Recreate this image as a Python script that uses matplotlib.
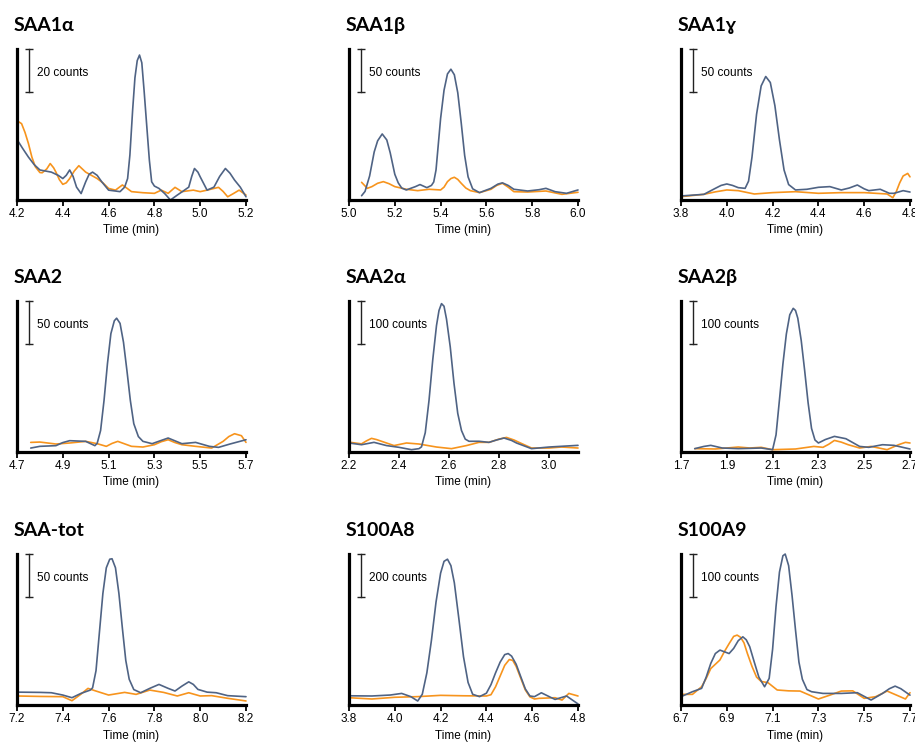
import matplotlib
matplotlib.use("Agg")

import matplotlib.pyplot as plt
import matplotlib.transforms as mtransforms

BLUE = "#4f6384"
ORANGE = "#f7941d"

# (time [min], counts above baseline)
saa1a_blue = [(4.2, 28.2), (4.225, 24), (4.25, 20), (4.275, 16.5), (4.3, 14), (4.35, 13),
              (4.38, 11.5), (4.4, 10), (4.415, 11.5), (4.43, 14), (4.445, 11), (4.46, 6),
              (4.48, 3), (4.5, 8.5), (4.515, 12), (4.53, 13), (4.55, 11.5), (4.57, 8.5),
              (4.6, 4.6), (4.65, 3.9), (4.67, 6), (4.683, 10), (4.693, 21), (4.705, 42),
              (4.715, 57), (4.725, 65), (4.735, 67.6), (4.745, 64), (4.755, 51), (4.767, 34),
              (4.778, 18.6), (4.788, 8.5), (4.8, 6.5), (4.82, 5.4), (4.845, 3), (4.87, 0),
              (4.9, 2.3), (4.93, 4.5), (4.95, 6), (4.963, 11), (4.975, 14.7), (4.99, 13),
              (5.0, 10.8), (5.03, 4.6), (5.06, 6), (5.085, 11), (5.11, 14.7), (5.13, 12.5),
              (5.15, 9.3), (5.175, 6), (5.2, 1.5)]
saa1a_orange = [(4.2, 37), (4.22, 35.6), (4.235, 31.5), (4.25, 26.3), (4.265, 20), (4.28, 15.5),
                (4.3, 12.8), (4.31, 12.7), (4.33, 14.5), (4.345, 17), (4.36, 15), (4.37, 13),
                (4.385, 9.5), (4.4, 7.3), (4.415, 8), (4.43, 10), (4.45, 13.5), (4.47, 16),
                (4.5, 13), (4.55, 10), (4.575, 8), (4.6, 5.4), (4.63, 4.6), (4.66, 7),
                (4.68, 5.5), (4.7, 3.9), (4.75, 3.4), (4.8, 3.1), (4.83, 4.6), (4.86, 3.1),
                (4.89, 5.9), (4.92, 3.9), (4.97, 4.6), (5.0, 3.9), (5.03, 4.6), (5.08, 5.9),
                (5.1, 4), (5.12, 1.5), (5.145, 3), (5.17, 4.6), (5.2, 2.3)]

saa1b_blue = [(5.055, 5), (5.07, 10), (5.09, 28), (5.11, 56), (5.125, 69), (5.145, 77),
              (5.165, 70), (5.18, 55), (5.2, 30), (5.215, 20), (5.23, 14), (5.25, 11.7),
              (5.29, 15.6), (5.31, 18), (5.34, 14.4), (5.36, 17), (5.37, 21), (5.38, 35),
              (5.4, 95), (5.415, 128), (5.43, 147), (5.445, 152.5), (5.46, 146), (5.475, 125),
              (5.49, 90), (5.505, 52), (5.52, 27), (5.54, 13), (5.57, 8.6), (5.62, 13.6),
              (5.65, 18.5), (5.67, 20), (5.695, 17), (5.72, 12.5), (5.78, 10.5), (5.83, 12),
              (5.86, 13.6), (5.9, 9.7), (5.95, 7.8), (6.0, 11.7)]
saa1b_orange = [(5.055, 20.6), (5.08, 13.6), (5.1, 15.6), (5.125, 19.5), (5.15, 21.4),
                (5.175, 19), (5.2, 15.6), (5.25, 12.5), (5.3, 10.9), (5.35, 12.5), (5.4, 11.7),
                (5.415, 15), (5.43, 21.4), (5.445, 25), (5.46, 26.5), (5.475, 24), (5.49, 19.5),
                (5.51, 14), (5.53, 10.9), (5.57, 8.6), (5.62, 12.5), (5.645, 17), (5.67, 19.5),
                (5.695, 15), (5.72, 9.7), (5.78, 9.3), (5.86, 10.5), (5.93, 6.6), (6.0, 9)]

saa1g_blue = [(3.8, 4.7), (3.9, 6.6), (3.95, 13.6), (3.975, 17), (4.0, 18.7), (4.025, 17),
              (4.05, 14.4), (4.08, 13.6), (4.095, 22), (4.11, 50), (4.13, 100), (4.15, 133),
              (4.17, 144), (4.19, 137), (4.21, 110), (4.23, 70), (4.25, 35), (4.27, 18),
              (4.3, 11.7), (4.35, 12.5), (4.4, 14.8), (4.45, 15.6), (4.5, 11.7), (4.535, 14),
              (4.57, 17.5), (4.6, 13), (4.62, 10.9), (4.67, 12.5), (4.71, 7.8), (4.73, 7.8),
              (4.77, 10.9), (4.8, 9.3)]
saa1g_orange = [(3.8, 3.9), (3.9, 6.6), (3.95, 9.5), (4.0, 11.7), (4.05, 10.9), (4.12, 7),
                (4.2, 8.6), (4.3, 9.7), (4.4, 7.8), (4.5, 8.6), (4.6, 8.6), (4.7, 7),
                (4.725, 2.7), (4.74, 9.7), (4.755, 20), (4.77, 28), (4.79, 31), (4.8, 27)]

saa2_blue = [(4.76, 4.6), (4.8, 6.6), (4.87, 7.4), (4.9, 11), (4.93, 13.2), (5.0, 12.4),
             (5.04, 7.4), (5.05, 10), (5.065, 25), (5.08, 60), (5.095, 103), (5.11, 138),
             (5.125, 153), (5.135, 156), (5.15, 150), (5.165, 128), (5.18, 95), (5.195, 60),
             (5.21, 33), (5.23, 18), (5.25, 12.4), (5.29, 9.7), (5.33, 13.5), (5.36, 16.3),
             (5.39, 13), (5.42, 9.7), (5.48, 11.2), (5.54, 6.6), (5.58, 5.4), (5.63, 9.3),
             (5.7, 14.3)]
saa2_orange = [(4.76, 11.2), (4.8, 11.6), (4.87, 9.3), (4.93, 10.5), (5.0, 12.4), (5.05, 9.7),
               (5.09, 6.6), (5.115, 10), (5.14, 12.4), (5.17, 9.5), (5.2, 6.6), (5.25, 5.8),
               (5.3, 8.5), (5.33, 12), (5.36, 14.3), (5.39, 11), (5.42, 8.5), (5.48, 6.6),
               (5.55, 4.6), (5.6, 12.4), (5.625, 18), (5.65, 21.3), (5.68, 19), (5.7, 11.2)]

saa2a_blue = [(2.2, 21), (2.25, 17), (2.3, 22.5), (2.35, 15), (2.4, 10.9), (2.45, 5.4),
              (2.48, 7.8), (2.49, 12), (2.505, 45), (2.52, 120), (2.535, 215), (2.55, 295),
              (2.56, 330), (2.57, 346), (2.58, 340), (2.59, 310), (2.605, 245), (2.62, 160),
              (2.635, 90), (2.65, 50), (2.665, 30), (2.68, 25), (2.72, 25), (2.76, 22.5),
              (2.79, 28), (2.82, 32.6), (2.85, 27), (2.87, 21), (2.93, 7.8), (3.0, 11.6),
              (3.116, 15.5)]
saa2a_orange = [(2.2, 23), (2.25, 19), (2.27, 26), (2.29, 31.8), (2.31, 29), (2.33, 25),
                (2.38, 15), (2.43, 21), (2.48, 18.6), (2.55, 11.6), (2.61, 7.8), (2.67, 15),
                (2.72, 22.5), (2.76, 22.5), (2.8, 30), (2.83, 34), (2.86, 28), (2.88, 22.5),
                (2.93, 9.3), (3.0, 9.3), (3.05, 11.6), (3.116, 9.3)]

saa2b_blue = [(1.76, 7.8), (1.8, 13), (1.83, 15.5), (1.88, 9.3), (1.95, 7.8), (2.0, 8.5),
              (2.05, 9.3), (2.1, 5.4), (2.115, 40), (2.13, 122), (2.145, 205), (2.16, 275),
              (2.175, 320), (2.19, 335), (2.2, 330), (2.21, 312), (2.225, 260), (2.24, 190),
              (2.255, 115), (2.27, 55), (2.285, 28), (2.3, 21), (2.33, 29), (2.37, 36.4),
              (2.42, 31), (2.48, 13), (2.52, 10.9), (2.58, 17), (2.63, 15.5), (2.7, 7)]
saa2b_orange = [(1.76, 7.8), (1.85, 7), (1.95, 11.6), (2.0, 9.3), (2.05, 10.9), (2.1, 5.4),
                (2.2, 7), (2.28, 13), (2.32, 10.9), (2.345, 18), (2.37, 27), (2.4, 23),
                (2.43, 17), (2.48, 9.3), (2.53, 13), (2.6, 5.4), (2.65, 17), (2.68, 22.5),
                (2.7, 21)]

saatot_blue = [(7.2, 15), (7.3, 14.7), (7.35, 14.3), (7.4, 11.6), (7.44, 8.5), (7.48, 13.6),
               (7.52, 17.4), (7.53, 20), (7.545, 40), (7.56, 85), (7.575, 130), (7.59, 160),
               (7.605, 170), (7.615, 170.5), (7.63, 160), (7.645, 130), (7.66, 90),
               (7.675, 52), (7.69, 30), (7.71, 18), (7.74, 14.3), (7.78, 19.4), (7.82, 24),
               (7.86, 19.4), (7.89, 16.3), (7.92, 22), (7.95, 27), (7.97, 24), (7.99, 18.2),
               (8.03, 15), (8.07, 14.3), (8.12, 10.9), (8.2, 9.7)]
saatot_orange = [(7.2, 10.5), (7.3, 10), (7.4, 9.7), (7.44, 5), (7.48, 12.8), (7.51, 19.4),
                 (7.54, 16.7), (7.6, 11.6), (7.67, 14.7), (7.72, 12.4), (7.78, 17.4),
                 (7.84, 14.7), (7.9, 10.5), (7.95, 14.3), (8.0, 10.5), (8.05, 10.9),
                 (8.12, 7.8), (8.2, 4.7)]

s100a8_blue = [(3.8, 43), (3.9, 42), (3.98, 46.5), (4.03, 54), (4.07, 39), (4.1, 18.6),
               (4.12, 50), (4.14, 150), (4.16, 302), (4.18, 480), (4.2, 615), (4.215, 670),
               (4.23, 680), (4.245, 650), (4.26, 570), (4.28, 400), (4.3, 225), (4.32, 105),
               (4.34, 50), (4.37, 39), (4.4, 55), (4.42, 95), (4.44, 150), (4.46, 200),
               (4.48, 235), (4.495, 240), (4.51, 228), (4.53, 190), (4.55, 132), (4.57, 75),
               (4.59, 42), (4.61, 39), (4.64, 57), (4.68, 36), (4.7, 26), (4.75, 42), (4.8, 5)]
s100a8_orange = [(3.8, 34), (3.9, 28), (4.0, 36), (4.1, 39), (4.2, 45), (4.3, 43), (4.4, 42),
                 (4.42, 48), (4.44, 85), (4.46, 135), (4.48, 185), (4.5, 212), (4.515, 208),
                 (4.53, 180), (4.55, 125), (4.57, 70), (4.59, 38), (4.61, 28), (4.63, 31),
                 (4.7, 34), (4.73, 23), (4.76, 54), (4.8, 42)]

s100a9_blue = [(6.7, 19.4), (6.75, 31), (6.79, 38.8), (6.81, 65), (6.83, 97), (6.85, 120),
               (6.87, 128), (6.89, 124), (6.91, 120), (6.93, 132), (6.95, 150), (6.97, 159),
               (6.985, 152), (7.0, 136), (7.02, 100), (7.04, 65), (7.065, 42.6), (7.085, 62),
               (7.1, 130), (7.115, 230), (7.13, 310), (7.145, 348), (7.155, 352), (7.17, 325),
               (7.185, 255), (7.2, 175), (7.215, 100), (7.23, 60), (7.25, 36), (7.27, 31),
               (7.32, 27), (7.4, 27), (7.47, 28.7), (7.53, 11.6), (7.58, 27), (7.61, 38),
               (7.635, 44), (7.66, 38), (7.7, 23)]
s100a9_orange = [(6.7, 24.8), (6.75, 24.8), (6.79, 42.6), (6.81, 62), (6.83, 85), (6.85, 95),
                 (6.87, 105), (6.89, 125), (6.91, 143), (6.93, 160), (6.945, 163), (6.96, 158),
                 (6.975, 145), (6.99, 120), (7.01, 90), (7.03, 65), (7.05, 55), (7.08, 52),
                 (7.12, 35), (7.17, 33), (7.22, 32.5), (7.27, 21), (7.3, 14), (7.35, 23),
                 (7.4, 32.5), (7.45, 33), (7.5, 15.5), (7.55, 19.4), (7.6, 32.5), (7.65, 21),
                 (7.68, 14), (7.7, 28.7)]

titles = ["SAA1α", "SAA1β", "SAA1ɣ", "SAA2", "SAA2α", "SAA2β", "SAA-tot", "S100A8", "S100A9"]
scale_counts = [20, 50, 50, 50, 100, 100, 50, 200, 100]
x_ranges = [(4.2, 5.2), (5.0, 6.0), (3.8, 4.8), (4.7, 5.7), (2.2, 3.116), (1.7, 2.7),
            (7.2, 8.2), (3.8, 4.8), (6.7, 7.7)]
x_ticks = [
    [4.2, 4.4, 4.6, 4.8, 5.0, 5.2],
    [5.0, 5.2, 5.4, 5.6, 5.8, 6.0],
    [3.8, 4.0, 4.2, 4.4, 4.6, 4.8],
    [4.7, 4.9, 5.1, 5.3, 5.5, 5.7],
    [2.2, 2.4, 2.6, 2.8, 3.0],
    [1.7, 1.9, 2.1, 2.3, 2.5, 2.7],
    [7.2, 7.4, 7.6, 7.8, 8.0, 8.2],
    [3.8, 4.0, 4.2, 4.4, 4.6, 4.8],
    [6.7, 6.9, 7.1, 7.3, 7.5, 7.7],
]
blue_traces = [saa1a_blue, saa1b_blue, saa1g_blue, saa2_blue, saa2a_blue, saa2b_blue,
               saatot_blue, s100a8_blue, s100a9_blue]
orange_traces = [saa1a_orange, saa1b_orange, saa1g_orange, saa2_orange, saa2a_orange,
                 saa2b_orange, saatot_orange, s100a8_orange, s100a9_orange]

BAR_FRAC = 0.284  # scale bar height as a fraction of the panel height

plt.rcParams["font.family"] = ["Liberation Sans", "DejaVu Sans"]

fig = plt.figure(figsize=(9.15, 7.44), dpi=100)
W, H = 915, 744
col_left = [17, 349, 681]
row_bottom = [200, 452, 705]
ax_w, ax_h = 229, 151

for i, title in enumerate(titles):
    r, c = divmod(i, 3)
    ax = fig.add_axes([col_left[c] / W, 1 - row_bottom[r] / H, ax_w / W, ax_h / H])
    ymax = scale_counts[i] / BAR_FRAC

    for trace, color in ((orange_traces[i], ORANGE), (blue_traces[i], BLUE)):
        t, y = zip(*trace)
        ax.plot(t, y, color=color, lw=1.2, clip_on=False,
                solid_joinstyle="round", solid_capstyle="round")

    ax.set_xlim(*x_ranges[i])
    ax.set_ylim(0, ymax)
    ax.set_xticks(x_ticks[i])
    ax.set_xticklabels([f"{v:.1f}" for v in x_ticks[i]])
    ax.set_yticks([])
    for side in ("top", "right"):
        ax.spines[side].set_visible(False)
    for side in ("left", "bottom"):
        ax.spines[side].set_linewidth(2.3)
    ax.tick_params(axis="x", length=4, width=1.3, labelsize=8.5, pad=2)
    ax.set_xlabel("Time (min)", fontsize=8.5, labelpad=3)
    ax.patch.set_alpha(0)

    # vertical scale bar
    trans = mtransforms.blended_transform_factory(ax.transAxes, ax.transData)
    yb = [ymax - scale_counts[i], ymax]
    ax.plot([0.053, 0.053], yb, color="#222222", lw=1.0, transform=trans, clip_on=False)
    ax.plot([0.053, 0.053], yb, ls="none", marker="_", ms=6, mew=1.0, color="#222222",
            transform=trans, clip_on=False)
    ax.text(0.087, ymax - scale_counts[i] * 0.55, f"{scale_counts[i]} counts",
            transform=trans, fontsize=8.5, va="center", ha="left")

    ax.text(-0.015, 1.12, title, transform=ax.transAxes, fontsize=14, fontweight="bold",
            family=["Lato", "DejaVu Sans"], va="baseline", ha="left")

fig.savefig("out.png", dpi=100)
